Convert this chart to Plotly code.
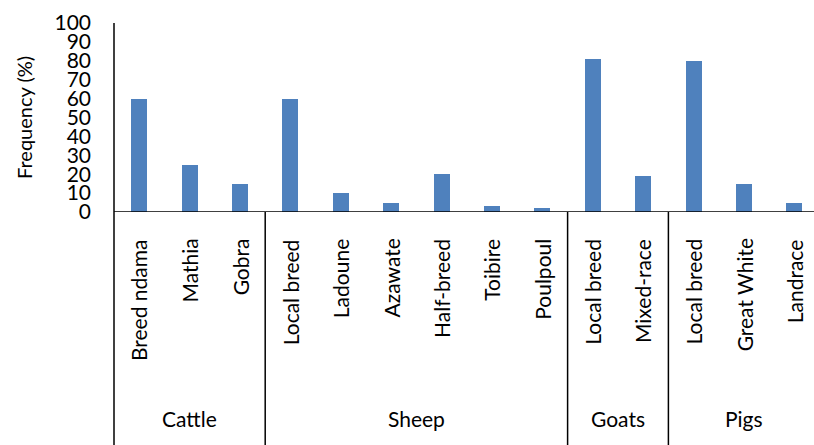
import plotly.graph_objects as go

groups = ["Cattle", "Sheep", "Goats", "Pigs"]
breeds = [
    ["Breed ndama", "Mathia", "Gobra"],
    ["Local breed", "Ladoune", "Azawate", "Half-breed", "Toibire", "Poulpoul"],
    ["Local breed", "Mixed-race"],
    ["Local breed", "Great White", "Landrace"],
]
cattle = [60, 25, 15]
sheep = [60, 10, 5, 20, 3, 2]
goats = [81, 19]
pigs = [80, 15, 5]
values = [cattle, sheep, goats, pigs]
y_ticks = list(range(0, 101, 10))

W, H = 814, 445
L, T, B = 114, 22.5, 212.5
plot_h = B - T
plot_w = W - L
cat_w = 50.4
x_max = -0.5 + plot_w / cat_w

FONT = "Lato"
FS = 20
FS_CAT = 21
LINE = "#000000"

xs, ys, labels = [], [], []
i = 0
bounds = []
for g, names, vals in zip(groups, breeds, values):
    start = i
    for n, v in zip(names, vals):
        xs.append(i)
        ys.append(v)
        labels.append(n)
        i += 1
    bounds.append((start, i - 1))

fig = go.Figure()
fig.add_trace(go.Bar(x=xs, y=ys, width=0.32, marker=dict(color="#4F81BD", line=dict(width=0))))

bottom = -(H - B) / plot_h - 0.05
annotations = []
for x, lab in zip(xs, labels):
    annotations.append(dict(x=x, y=-25 / plot_h, xref="x", yref="paper", text=lab, textangle=-90,
                            showarrow=False, xanchor="center", yanchor="top",
                            font=dict(family=FONT, size=FS_CAT, color="#000")))
for g, (s, e) in zip(groups, bounds):
    annotations.append(dict(x=(s + e) / 2, y=-(420 - B) / plot_h, xref="x", yref="paper", text=g,
                            showarrow=False, xanchor="center", yanchor="middle",
                            font=dict(family=FONT, size=FS_CAT, color="#000")))
annotations.append(dict(x=(24 - L) / plot_w, y=(B - 118) / plot_h, xref="paper", yref="paper",
                        text="Frequency (%)", textangle=-90, showarrow=False,
                        xanchor="center", yanchor="middle",
                        font=dict(family=FONT, size=FS, color="#000")))

shapes = [dict(type="line", xref="paper", yref="paper", x0=0, x1=0, y0=bottom, y1=1,
               line=dict(color=LINE, width=1.5))]
for (s, e) in bounds[:-1]:
    shapes.append(dict(type="line", xref="x", yref="paper", x0=e + 0.5, x1=e + 0.5, y0=bottom, y1=0,
                       line=dict(color=LINE, width=1.5)))
shapes.append(dict(type="line", xref="paper", yref="y", x0=0, x1=1, y0=0, y1=0,
                   line=dict(color=LINE, width=1.5)))

fig.update_layout(
    width=W, height=H,
    margin=dict(l=L, r=0, t=T, b=H - B, pad=0),
    paper_bgcolor="white", plot_bgcolor="white",
    showlegend=False,
    font=dict(family=FONT, size=FS, color="#000"),
    xaxis=dict(range=[-0.5, x_max], showticklabels=False, showgrid=False, zeroline=False,
               showline=False, ticks=""),
    yaxis=dict(range=[0, 100], tickvals=y_ticks, ticks="", showgrid=False, zeroline=False,
               showline=False, ticklabelstandoff=22,
               tickfont=dict(family=FONT, size=FS_CAT, color="#000")),
    annotations=annotations,
    shapes=shapes,
    bargap=0,
)

fig.write_html("out.html")
